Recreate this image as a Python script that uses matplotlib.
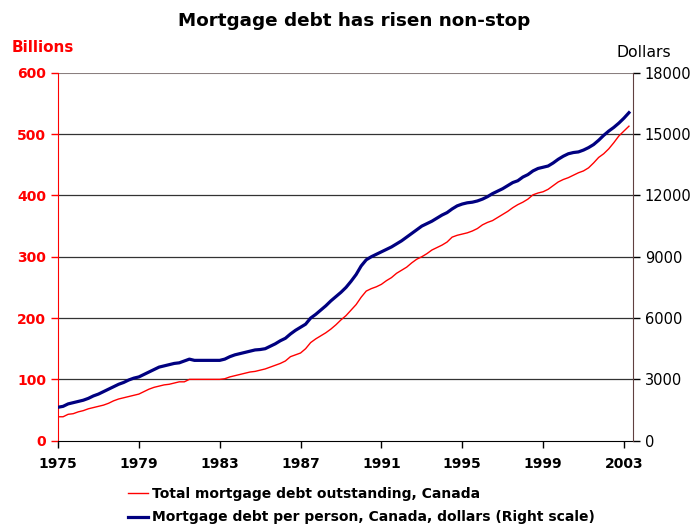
import matplotlib.pyplot as plt
import numpy as np

# quarterly data, 1975Q1 .. 2003Q2
start_year = 1975
total_debt = [39, 39, 43, 44,
              47, 49, 52, 54,
              56, 58, 61, 65,
              68, 70, 72, 74,
              76, 80, 84, 87,
              89, 91, 92, 94,
              96, 96, 100, 100,
              100, 100, 100, 100,
              100, 101, 104, 106,
              108, 110, 112, 113,
              115, 117, 120, 123,
              126, 130, 137, 140,
              143, 150, 160, 166,
              171, 176, 182, 189,
              197, 204, 213, 222,
              234, 244, 248, 251,
              255, 261, 266, 273,
              278, 283, 290, 296,
              300, 305, 311, 315,
              319, 324, 332, 335,
              337, 339, 342, 346,
              352, 356, 359, 364,
              369, 374, 380, 385,
              389, 394, 401, 404,
              406, 410, 416, 422,
              426, 429, 433, 437,
              440, 445, 453, 462,
              468, 476, 486, 497,
              505, 513]
per_person = [1635, 1680, 1800, 1860,
              1920, 1980, 2070, 2190,
              2280, 2400, 2520, 2640,
              2760, 2850, 2970, 3060,
              3120, 3240, 3360, 3480,
              3600, 3660, 3720, 3780,
              3810, 3900, 3990, 3930,
              3930, 3930, 3930, 3930,
              3930, 3990, 4110, 4200,
              4260, 4320, 4380, 4440,
              4460, 4500, 4620, 4740,
              4890, 5010, 5220, 5400,
              5550, 5700, 6000, 6180,
              6390, 6600, 6840, 7050,
              7260, 7500, 7800, 8130,
              8550, 8850, 9000, 9120,
              9240, 9360, 9480, 9630,
              9780, 9960, 10140, 10320,
              10500, 10620, 10740, 10890,
              11040, 11160, 11340, 11490,
              11580, 11640, 11670, 11730,
              11820, 11940, 12090, 12210,
              12330, 12480, 12630, 12720,
              12900, 13020, 13200, 13320,
              13380, 13440, 13590, 13770,
              13920, 14040, 14100, 14130,
              14220, 14340, 14490, 14700,
              14940, 15150, 15330, 15540,
              15780, 16050]
year_ticks = [1975, 1979, 1983, 1987, 1991, 1995, 1999, 2003]

years = start_year + np.arange(len(total_debt)) / 4.0

plt.rcParams['font.family'] = 'DejaVu Sans'
fig = plt.figure(figsize=(6.94, 5.27), dpi=100)
ax = fig.add_axes([0.0836, 0.1638, 0.8285, 0.698])
ax2 = ax.twinx()

l1, = ax.plot(years, total_debt, color='#ff0000', lw=1.0,
              label='Total mortgage debt outstanding, Canada')
l2, = ax2.plot(years, per_person, color='#000080', lw=2.3,
               label='Mortgage debt per person, Canada, dollars (Right scale)')

ax.set_xlim(1975, 2003.45)
ax.set_ylim(0, 600)
ax2.set_ylim(0, 18000)
ax.set_yticks(np.arange(0, 601, 100))
ax2.set_yticks(np.arange(0, 18001, 3000))
ax.set_xticks(year_ticks)

# gridlines
for v in range(100, 600, 100):
    ax.axhline(v, color='#333333', lw=0.9, zorder=0)
ax.axhline(600, color='#8a7f7f', lw=1.5, zorder=0)

ax.spines['left'].set_color('#ff0000')
ax.spines['top'].set_visible(False)
ax2.spines['top'].set_visible(False)
ax2.spines['left'].set_visible(False)
ax.spines['right'].set_visible(False)
ax2.spines['right'].set_color('#604040')
ax2.spines['bottom'].set_visible(False)

ax.tick_params(axis='y', colors='#ff0000', length=5, width=1, labelsize=10)
ax.tick_params(axis='x', length=5, width=1, labelsize=10, pad=7)
ax2.tick_params(axis='y', colors='black', length=5, width=1, labelsize=10.5)
for t in ax.get_yticklabels():
    t.set_fontweight('bold')
    t.set_color('#ff0000')
for t in ax.get_xticklabels():
    t.set_fontweight('bold')

fig.text(0.51, 0.961, 'Mortgage debt has risen non-stop', ha='center', va='center',
         fontsize=13.2, fontweight='bold')
fig.text(0.017, 0.91, 'Billions', color='#ff0000', fontweight='bold', fontsize=11,
         va='center')
fig.text(0.889, 0.9, 'Dollars', color='black', fontsize=11.3, va='center')

fig.legend(handles=[l1, l2], loc='upper left', bbox_to_anchor=(0.184, 0.076),
           frameon=False, handlelength=1.45, handletextpad=0.3, labelspacing=0.68,
           prop={'weight': 'bold', 'size': 10}, borderaxespad=0, borderpad=0)

fig.savefig('out.png', dpi=100)
